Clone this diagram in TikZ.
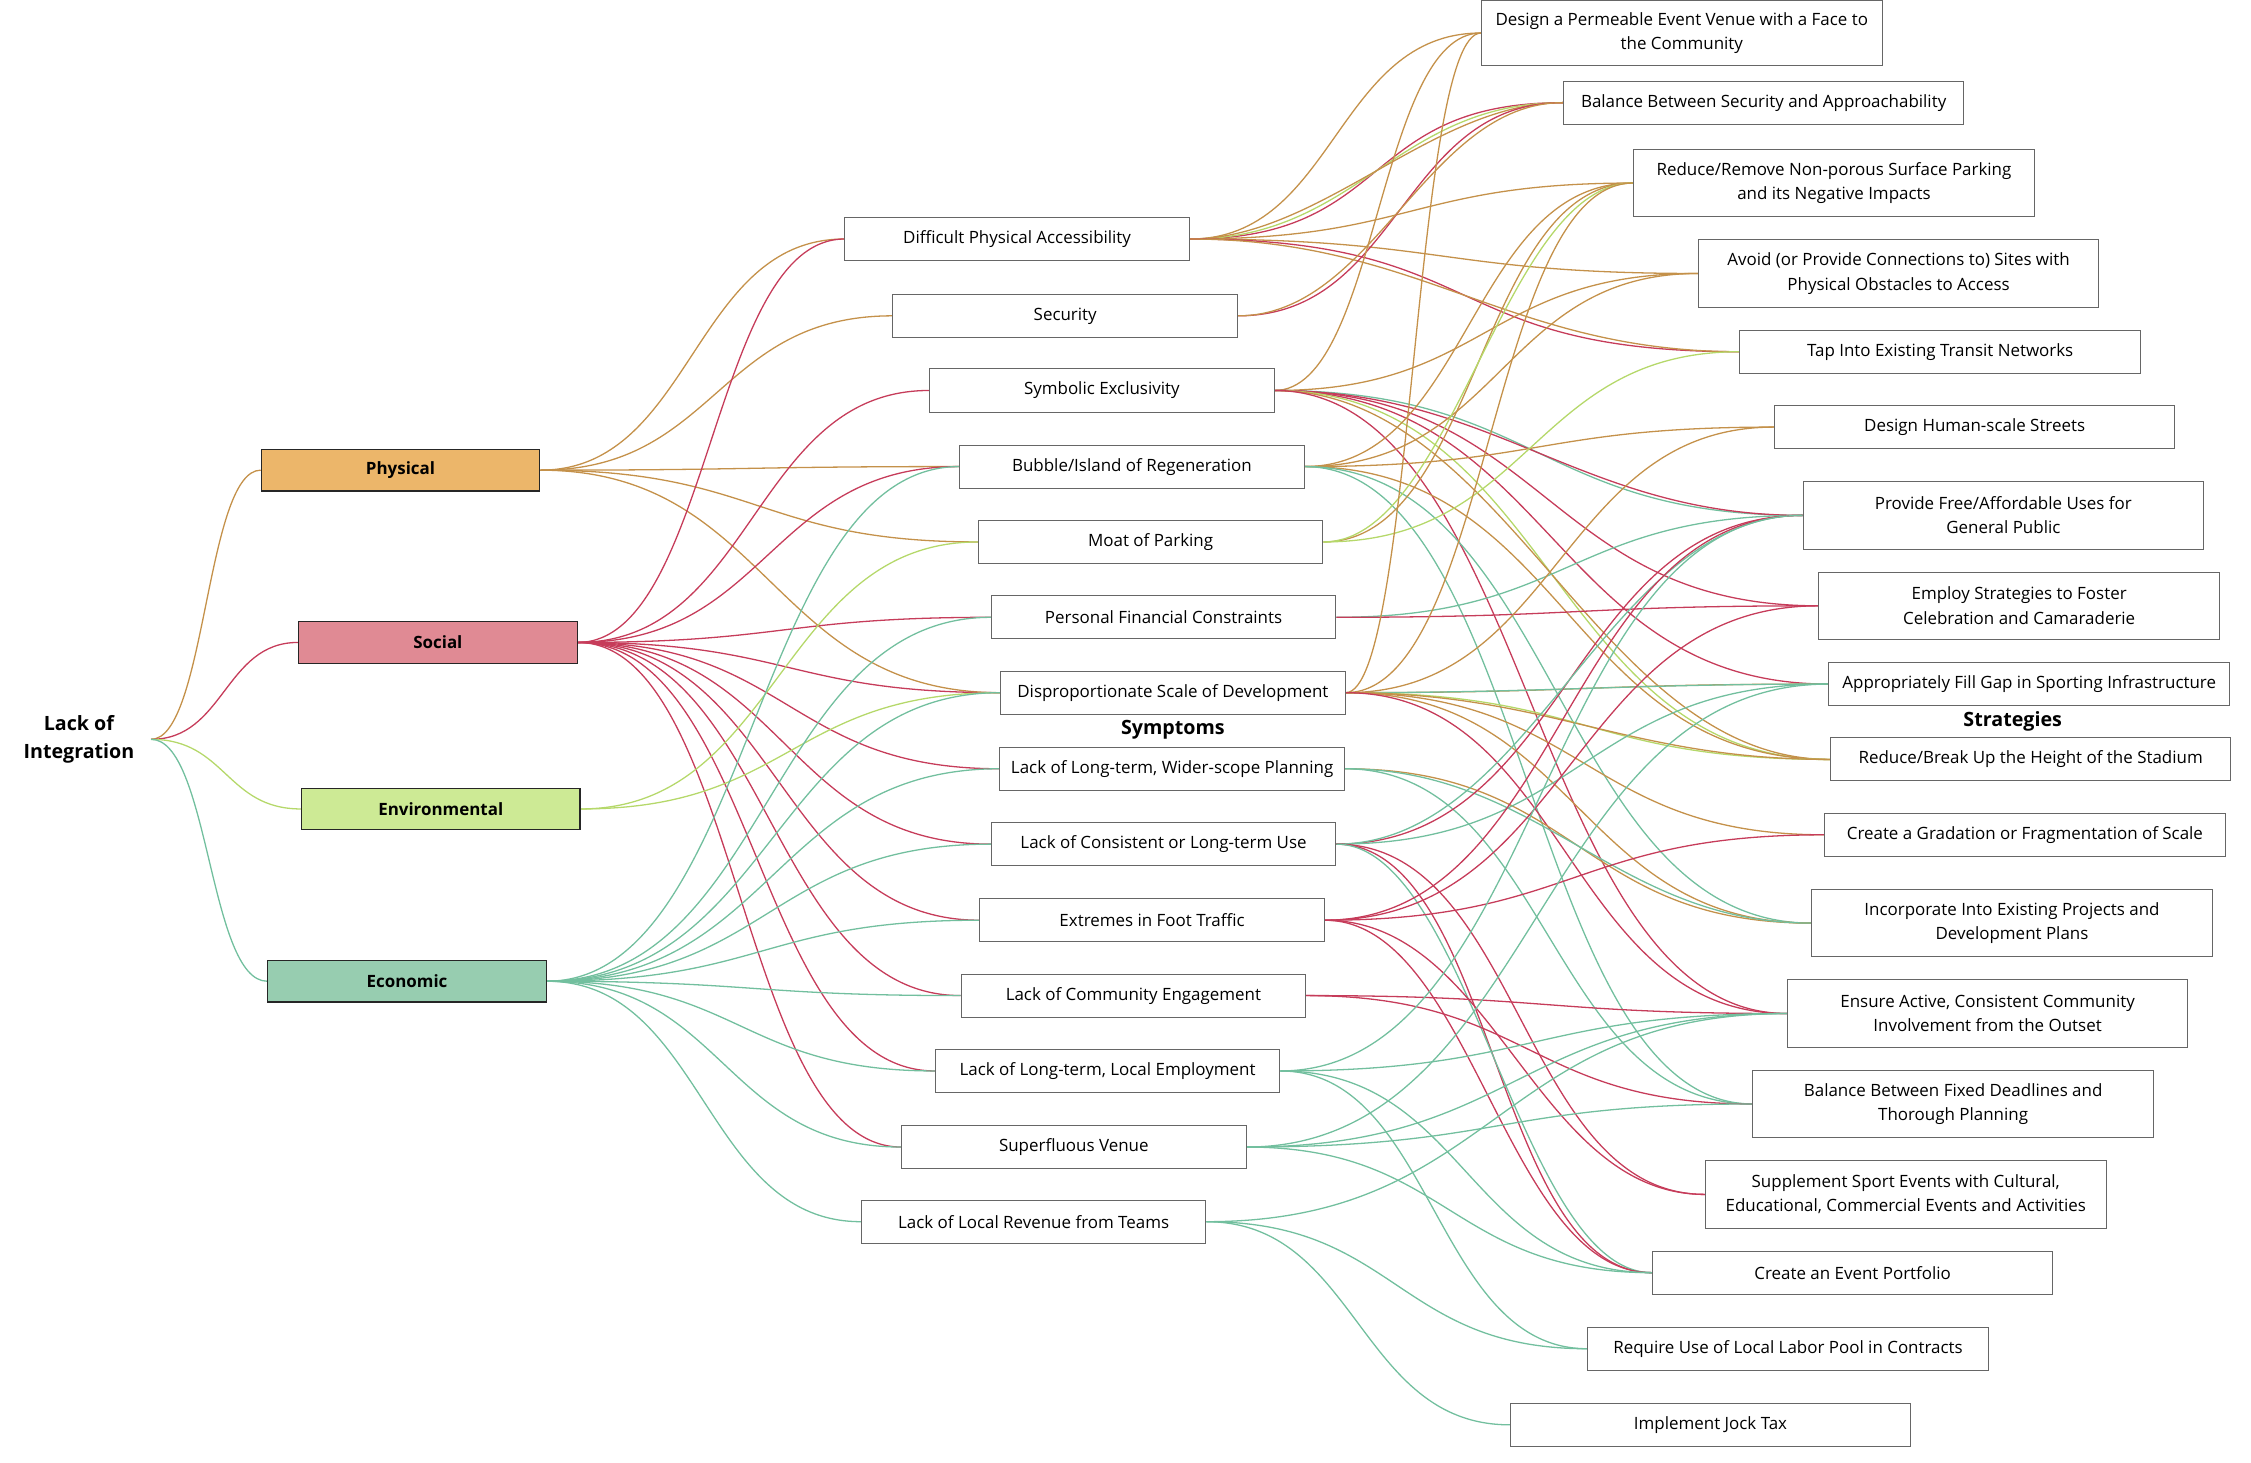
\documentclass[tikz,border=0pt]{standalone}
\usepackage{fontspec}
\setmainfont{Open Sans}
\usepackage{tikz}
\usetikzlibrary{calc}
\pgfdeclarelayer{edgelayer}
\pgfdeclarelayer{nodelayer}
\pgfsetlayers{edgelayer,main,nodelayer}

\definecolor{physfill}{HTML}{ECB66A}
\definecolor{socfill}{HTML}{E08A94}
\definecolor{envfill}{HTML}{CDEA95}
\definecolor{ecofill}{HTML}{97CDB0}
\definecolor{physline}{HTML}{C4914A}
\definecolor{socline}{HTML}{C63C5A}
\definecolor{envline}{HTML}{B5D86A}
\definecolor{ecoline}{HTML}{72BF9E}

\tikzset{
	catbox/.style={draw=black!85, line width=0.8pt, minimum width=194pt, minimum height=29pt, inner sep=0pt, font=\bfseries\fontsize{11.8}{13}\selectfont},
	symbox/.style={draw=black!60, fill=white, line width=0.7pt, minimum width=240pt, minimum height=30pt, inner sep=0pt, align=center, font=\fontsize{11.8}{17}\selectfont},
	stratbox/.style={symbox, minimum width=279pt},
	tallbox/.style={stratbox, minimum height=47pt},
	heading/.style={font=\bfseries\fontsize{13.7}{15}\selectfont},
	phys/.style={draw=physline, line width=0.9pt},
	soc/.style={draw=socline, line width=0.9pt},
	env/.style={draw=envline, line width=0.9pt},
	eco/.style={draw=ecoline, line width=0.9pt}
}
% curve from the right side of one box to the left side of another
\newcommand{\joinbox}[4][0.5]{\draw[#2] let \p1=(#3.east), \p2=(#4.west), \n1={#1*(\x2-\x1)} in (\p1) .. controls +(\n1,0) and +(-\n1,0) .. (\p2);}

\begin{document}
\begin{tikzpicture}[x=1pt, y=-1pt]
	\useasboundingbox (0,0) rectangle (1568,1019);
	\begin{pgfonlayer}{nodelayer}
		\node [align=center, minimum width=100pt, inner sep=0pt, font=\bfseries\fontsize{13.7}{20}\selectfont] (0) at (55,515) {Lack of\\Integration};
		\node [catbox, fill=physfill] (1) at (279,327.5) {Physical};
		\node [catbox, fill=socfill] (2) at (305,447.5) {Social};
		\node [catbox, fill=envfill] (3) at (307,563.5) {Environmental};
		\node [catbox, fill=ecofill] (4) at (283.5,683.5) {Economic};
		\node [symbox] (11) at (708.5,166.5) {Difficult Physical Accessibility};
		\node [symbox] (12) at (742,220) {Security};
		\node [symbox] (13) at (767.5,272) {Symbolic Exclusivity};
		\node [symbox] (14) at (788.5,325) {Bubble/Island of Regeneration};
		\node [symbox] (15) at (801.5,377.5) {Moat of Parking};
		\node [symbox] (16) at (810.5,430) {Personal Financial Constraints};
		\node [symbox] (17) at (817,482.5) {Disproportionate Scale of Development};
		\node [symbox] (18) at (816.5,535.5) {Lack of Long-term, Wider-scope Planning};
		\node [symbox] (19) at (810.5,588) {Lack of Consistent or Long-term Use};
		\node [symbox] (20) at (802.5,641) {Extremes in Foot Traffic};
		\node [symbox] (21) at (789.5,693.5) {Lack of Community Engagement};
		\node [symbox] (22) at (771.5,746) {Lack of Long-term, Local Employment};
		\node [symbox] (23) at (748,799) {Superfluous Venue};
		\node [symbox] (24) at (720,851) {Lack of Local Revenue from Teams};
		\node [heading] (25) at (817,508.5) {Symptoms};
		\node [tallbox, minimum height=45pt] (31) at (1171.5,23) {Design a Permeable Event Venue with a Face to\\the Community};
		\node [stratbox] (32) at (1228.5,71.5) {Balance Between Security and Approachability};
		\node [tallbox] (33) at (1277.5,127.5) {Reduce/Remove Non-porous Surface Parking\\and its Negative Impacts};
		\node [tallbox] (34) at (1322.5,190.5) {Avoid (or Provide Connections to) Sites with\\Physical Obstacles to Access};
		\node [stratbox] (35) at (1351.5,245) {Tap Into Existing Transit Networks};
		\node [stratbox] (36) at (1375.5,297.5) {Design Human-scale Streets};
		\node [tallbox] (37) at (1395.5,359) {Provide Free/Affordable Uses for\\General Public};
		\node [tallbox] (38) at (1406.5,422) {Employ Strategies to Foster\\Celebration and Camaraderie};
		\node [stratbox] (39) at (1413.5,476.5) {Appropriately Fill Gap in Sporting Infrastructure};
		\node [heading] (49) at (1402,502.5) {Strategies};
		\node [stratbox] (40) at (1414.5,529) {Reduce/Break Up the Height of the Stadium};
		\node [stratbox] (41) at (1410.5,581.5) {Create a Gradation or Fragmentation of Scale};
		\node [tallbox] (42) at (1401.5,643) {Incorporate Into Existing Projects and\\Development Plans};
		\node [tallbox] (43) at (1384.5,706) {Ensure Active, Consistent Community\\Involvement from the Outset};
		\node [tallbox] (44) at (1360.5,769) {Balance Between Fixed Deadlines and\\Thorough Planning};
		\node [tallbox] (45) at (1327.5,832) {Supplement Sport Events with Cultural,\\Educational, Commercial Events and Activities};
		\node [stratbox] (46) at (1290.5,886.5) {Create an Event Portfolio};
		\node [stratbox] (47) at (1245.5,939.5) {Require Use of Local Labor Pool in Contracts};
		\node [stratbox] (48) at (1191.5,992.5) {Implement Jock Tax};
	\end{pgfonlayer}
	\begin{pgfonlayer}{edgelayer}
		\joinbox{phys}{0}{1}
		\joinbox{soc}{0}{2}
		\joinbox{env}{0}{3}
		\joinbox{eco}{0}{4}
		\joinbox{phys}{1}{11}
		\joinbox{phys}{1}{12}
		\joinbox{phys}{1}{14}
		\joinbox{phys}{1}{15}
		\joinbox{phys}{1}{17}
		\joinbox{soc}{2}{11}
		\joinbox{soc}{2}{13}
		\joinbox{soc}{2}{14}
		\joinbox{soc}{2}{16}
		\joinbox{soc}{2}{17}
		\joinbox{soc}{2}{18}
		\joinbox{soc}{2}{19}
		\joinbox{soc}{2}{20}
		\joinbox{soc}{2}{21}
		\joinbox{soc}{2}{22}
		\joinbox{soc}{2}{23}
		\joinbox{env}{3}{15}
		\joinbox{env}{3}{17}
		\joinbox{eco}{4}{14}
		\joinbox{eco}{4}{16}
		\joinbox{eco}{4}{17}
		\joinbox{eco}{4}{18}
		\joinbox{eco}{4}{19}
		\joinbox{eco}{4}{20}
		\joinbox{eco}{4}{21}
		\joinbox{eco}{4}{22}
		\joinbox{eco}{4}{23}
		\joinbox{eco}{4}{24}
		% symptoms to strategies
		\joinbox{phys}{11}{31}
		\joinbox[0.55]{soc}{11}{32}
		\joinbox[0.45]{env}{11}{32}
		\joinbox[0.35]{phys}{11}{32}
		\joinbox{phys}{11}{33}
		\joinbox{phys}{11}{34}
		\joinbox[0.55]{soc}{11}{35}
		\joinbox[0.42]{phys}{11}{35}
		\joinbox{soc}{12}{32}
		\joinbox[0.42]{phys}{12}{32}
		\joinbox{phys}{13}{31}
		\joinbox{phys}{13}{34}
		\joinbox{eco}{13}{37}
		\joinbox[0.42]{soc}{13}{37}
		\joinbox{soc}{13}{38}
		\joinbox{soc}{13}{39}
		\joinbox{env}{13}{40}
		\joinbox[0.42]{phys}{13}{40}
		\joinbox{soc}{13}{43}
		\joinbox{phys}{14}{33}
		\joinbox{phys}{14}{34}
		\joinbox{phys}{14}{36}
		\joinbox{phys}{14}{40}
		\joinbox{eco}{14}{42}
		\joinbox{eco}{14}{44}
		\joinbox{phys}{15}{33}
		\joinbox[0.42]{env}{15}{33}
		\joinbox{env}{15}{35}
		\joinbox{eco}{16}{37}
		\joinbox{soc}{16}{38}
		\joinbox{phys}{17}{31}
		\joinbox{phys}{17}{33}
		\joinbox{phys}{17}{36}
		\joinbox{phys}{17}{39}
		\joinbox[0.42]{eco}{17}{39}
		\joinbox{env}{17}{40}
		\joinbox[0.42]{phys}{17}{40}
		\joinbox{phys}{17}{41}
		\joinbox{phys}{17}{42}
		\joinbox{soc}{17}{43}
		\joinbox{phys}{18}{42}
		\joinbox[0.42]{eco}{18}{42}
		\joinbox{eco}{18}{44}
		\joinbox{soc}{19}{37}
		\joinbox[0.42]{eco}{19}{37}
		\joinbox{eco}{19}{39}
		\joinbox{soc}{19}{45}
		\joinbox{soc}{19}{46}
		\joinbox[0.42]{eco}{19}{46}
		\joinbox{soc}{20}{37}
		\joinbox{soc}{20}{38}
		\joinbox{soc}{20}{41}
		\joinbox[0.45]{soc}{20}{45}
		\joinbox[0.45]{soc}{20}{46}
		\joinbox{soc}{21}{43}
		\joinbox{soc}{21}{44}
		\joinbox{eco}{22}{37}
		\joinbox{eco}{22}{43}
		\joinbox{eco}{22}{46}
		\joinbox{eco}{22}{47}
		\joinbox{eco}{23}{39}
		\joinbox{eco}{23}{43}
		\joinbox{eco}{23}{44}
		\joinbox{eco}{23}{46}
		\joinbox{eco}{24}{43}
		\joinbox{eco}{24}{47}
		\joinbox{eco}{24}{48}
	\end{pgfonlayer}
\end{tikzpicture}
\end{document}
